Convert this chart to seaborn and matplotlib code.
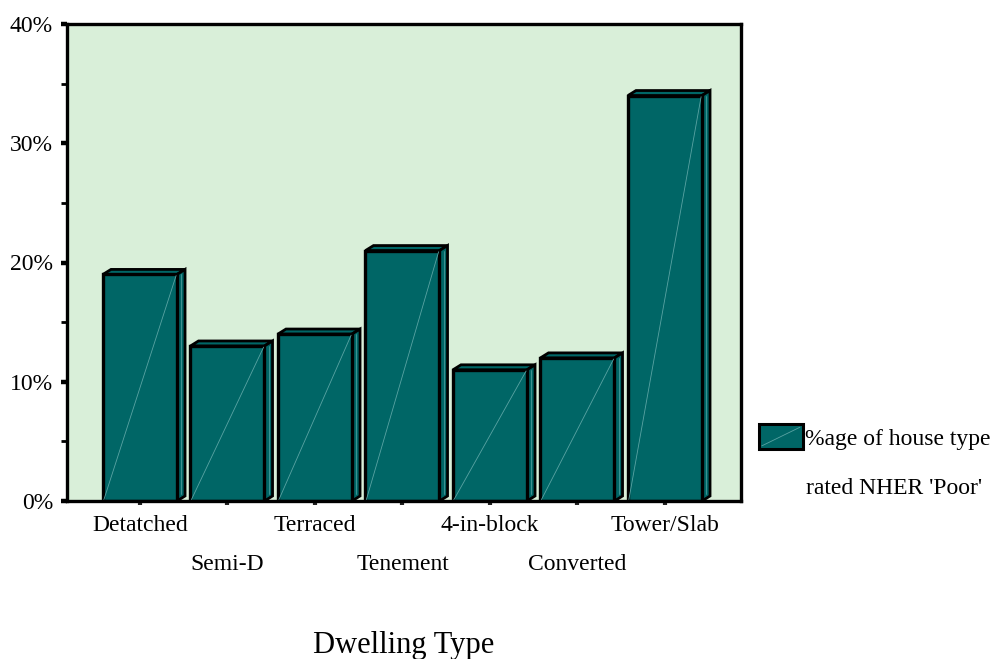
import matplotlib
matplotlib.use("Agg")
import matplotlib.pyplot as plt
from matplotlib.patches import Polygon, Rectangle, Patch
from matplotlib.lines import Line2D
from matplotlib.legend_handler import HandlerBase
import seaborn as sns
import pandas as pd

# Share of each dwelling type rated NHER 'Poor' (%)
dwelling_types = ["Detatched", "Semi-D", "Terraced", "Tenement",
                  "4-in-block", "Converted", "Tower/Slab"]
pct_poor = [19, 13, 14, 21, 11, 12, 34]
y_ticks = [0, 10, 20, 30, 40]
y_tick_labels = ["0%", "10%", "20%", "30%", "40%"]
series_label = "%age of house type"
series_label_2 = "rated NHER 'Poor'"

BAR = "#006666"
DIAG = "#5aa3a3"
BG = "#d9efd9"

sns.set_style("ticks")
plt.rcParams["font.family"] = ["Liberation Serif", "DejaVu Serif"]
plt.rcParams["text.color"] = "black"
plt.rcParams["xtick.labelcolor"] = "black"
plt.rcParams["ytick.labelcolor"] = "black"

df = pd.DataFrame({"type": dwelling_types, "pct": pct_poor})

fig = plt.figure(figsize=(9.98, 6.59), dpi=100)
ax = fig.add_axes([67 / 998, 1 - 501 / 659, 674 / 998, 477 / 659])
ax.set_facecolor(BG)

sns.barplot(data=df, x="type", y="pct", color=BAR, saturation=1,
            width=0.846, edgecolor="black", linewidth=2.4, ax=ax, zorder=3)

# pseudo-3D depth for each bar
dx, dy = 0.092, 0.42
for p in ax.patches:
    x0, w, h = p.get_x(), p.get_width(), p.get_height()
    top = Polygon([(x0, h), (x0 + dx, h + dy), (x0 + w + dx, h + dy), (x0 + w, h)],
                  closed=True, facecolor=BAR, edgecolor="black", linewidth=2.0,
                  zorder=2, joinstyle="miter")
    side = Polygon([(x0 + w, 0), (x0 + w + dx, dy), (x0 + w + dx, h + dy), (x0 + w, h)],
                   closed=True, facecolor=BAR, edgecolor="black", linewidth=2.0,
                   zorder=2, joinstyle="miter")
    ax.add_patch(top)
    ax.add_patch(side)
    ax.plot([x0 + 0.01, x0 + w - 0.01], [0.1, h - 0.1], color=DIAG, lw=0.6, zorder=4)
    ax.plot([x0 + w + dx * 0.5, x0 + w + dx * 0.5], [dy * 0.5 + 0.4, h], color=DIAG,
            lw=0.5, zorder=2.5)

ax.set_xlim(-0.834, 6.869)
ax.set_ylim(0, 40)
ax.set_yticks(y_ticks)
ax.set_yticklabels(y_tick_labels, fontsize=17)
ax.set_yticks([5, 15, 25, 35], minor=True)
ax.tick_params(axis="y", which="major", length=4, width=3.2, direction="out", pad=6,
               color="black")
ax.tick_params(axis="y", which="minor", length=4, width=2, direction="out",
               color="black")

ax.set_xticks(range(len(dwelling_types)))
ax.set_xticklabels(dwelling_types, fontsize=17)
ax.tick_params(axis="x", which="major", length=3, width=3, direction="out",
               color="#222222")
for i, t in enumerate(ax.xaxis.get_major_ticks()):
    t.set_pad(7 if i % 2 == 0 else 35)

ax.set_xlabel("")
ax.set_ylabel("")
fig.text((67 + 741) / 2 / 998, 1 - 645 / 659, "Dwelling Type", fontsize=22,
         ha="center", va="center")

for s in ax.spines.values():
    s.set_visible(True)
    s.set_color("black")
    s.set_linewidth(2.4)
    s.set_zorder(5)


class DiagHandler(HandlerBase):
    def create_artists(self, legend, orig_handle, xdescent, ydescent, width, height,
                       fontsize, trans):
        r = Rectangle((-xdescent, -ydescent), width, height, facecolor=BAR,
                      edgecolor="black", linewidth=2.2, transform=trans)
        ln = Line2D([-xdescent + 2, -xdescent + width - 2],
                    [-ydescent + 2, -ydescent + height - 2],
                    color=DIAG, lw=0.6, transform=trans)
        return [r, ln]


handle = Patch(facecolor=BAR, edgecolor="black")
fig.legend([handle], [series_label], handler_map={Patch: DiagHandler()},
           loc="center left", bbox_to_anchor=(759 / 998, 1 - 437 / 659),
           frameon=False, fontsize=17, handlelength=1.85, handleheight=1.2,
           handletextpad=0.1, borderpad=0, borderaxespad=0)
fig.text(806 / 998, 1 - 488 / 659, series_label_2, fontsize=17, va="center",
         ha="left")

fig.savefig("out.png", dpi=100, facecolor="white")
